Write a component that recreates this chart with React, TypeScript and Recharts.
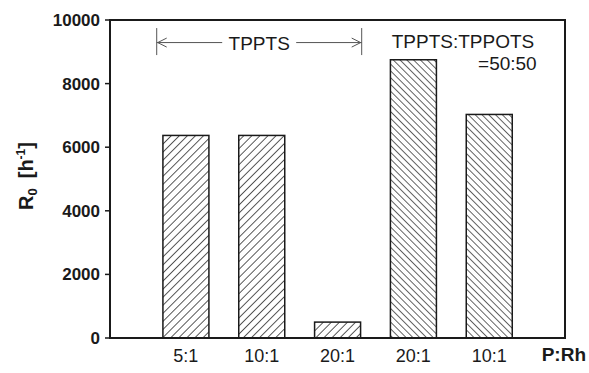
import React from 'react';
import { BarChart, Bar, XAxis, YAxis, ReferenceLine, ReferenceArea } from 'recharts';

// Initial rate R0 for the Rh catalyst at different P:Rh ratios
const slots = [1, 2, 3, 4, 5];
const ratioLabels = ['5:1', '10:1', '20:1', '20:1', '10:1'];
const rates = [6370, 6370, 500, 8750, 7030];
const ligandSystems = ['TPPTS', 'TPPTS', 'TPPTS', 'TPPTS:TPPOTS', 'TPPTS:TPPOTS'];
const yTicks = [0, 2000, 4000, 6000, 8000, 10000];

const data = slots.map((pos, i) => ({
  pos,
  rate: rates[i],
  system: ligandSystems[i],
}));

const FONT = '"Liberation Sans", Arial, Helvetica, sans-serif';
const INK = '#1a1a1a';

function HatchedBar(props: any) {
  const { x, y, width, height, payload } = props;
  const fill = payload.system === 'TPPTS' ? 'url(#hatchFwd)' : 'url(#hatchBack)';
  return <rect x={x} y={y} width={width} height={height} fill={fill} stroke={INK} strokeWidth={1.5} />;
}

// "|<---- TPPTS ---->|" bracket over the pure TPPTS bars
function SpanArrow(props: any) {
  const { x1, x2, y1 } = props;
  const y = y1;
  const mid = (x1 + x2) / 2;
  const c = '#555';
  return (
    <g>
      <line x1={x1} y1={y - 14.5} x2={x1} y2={y + 12.5} stroke={c} strokeWidth={1} />
      <line x1={x2} y1={y - 14.5} x2={x2} y2={y + 12.5} stroke={c} strokeWidth={1} />
      <line x1={x1} y1={y} x2={mid - 37} y2={y} stroke={c} strokeWidth={1} />
      <line x1={mid + 37} y1={y} x2={x2} y2={y} stroke={c} strokeWidth={1} />
      <polyline points={`${x1 + 10},${y - 4.5} ${x1 + 1},${y} ${x1 + 10},${y + 4.5}`} fill="none" stroke={c} strokeWidth={1} />
      <polyline points={`${x2 - 10},${y - 4.5} ${x2 - 1},${y} ${x2 - 10},${y + 4.5}`} fill="none" stroke={c} strokeWidth={1} />
      <text x={mid} y={y + 7} textAnchor="middle" fontSize={19} fontFamily={FONT} fill={INK}>
        TPPTS
      </text>
    </g>
  );
}

const textShape = (text: string, anchor: 'start' | 'end') => (props: any) => {
  const { x1, x2, y1 } = props;
  return (
    <text x={anchor === 'start' ? x1 : x2} y={y1} textAnchor={anchor} fontSize={19} fontFamily={FONT} fill={INK}>
      {text}
    </text>
  );
};

function YLabel(props: any) {
  const { viewBox } = props;
  const cx = viewBox.x + 33;
  const cy = viewBox.y + viewBox.height / 2 - 3;
  return (
    <text
      x={cx}
      y={cy}
      transform={`rotate(-90 ${cx} ${cy})`}
      textAnchor="middle"
      fontSize={20}
      fontWeight="bold"
      fontFamily={FONT}
      fill={INK}
    >
      R<tspan fontSize={13} dy={4}>0</tspan>
      <tspan dy={-4} dx={10}>[h</tspan>
      <tspan fontSize={12} dy={-8}>-1</tspan>
      <tspan dy={8}>]</tspan>
    </text>
  );
}

function XLabel(props: any) {
  const { viewBox } = props;
  return (
    <text
      x={viewBox.x + viewBox.width + 21}
      y={viewBox.y + 23}
      textAnchor="end"
      fontSize={19}
      fontWeight="bold"
      fontFamily={FONT}
      fill={INK}
    >
      P:Rh
    </text>
  );
}

export default function App() {
  return (
    <div style={{ position: 'absolute', left: 0, top: 0, width: 589, height: 373, background: '#fff' }}>
      <svg width={0} height={0} style={{ position: 'absolute' }}>
        <defs>
          <pattern id="hatchFwd" patternUnits="userSpaceOnUse" width={5.7} height={5.7} patternTransform="rotate(45)">
            <line x1={0} y1={0} x2={0} y2={5.7} stroke="#111" strokeWidth={1.4} />
          </pattern>
          <pattern id="hatchBack" patternUnits="userSpaceOnUse" width={4.8} height={4.8} patternTransform="rotate(-45)">
            <line x1={0} y1={0} x2={0} y2={4.8} stroke="#111" strokeWidth={1.3} />
          </pattern>
        </defs>
      </svg>
      <BarChart width={589} height={373} data={data} margin={{ top: 20, right: 24, left: 0, bottom: 0 }}>
        <XAxis
          dataKey="pos"
          type="number"
          domain={[0, 6]}
          ticks={slots}
          tickFormatter={(v: number) => ratioLabels[v - 1] ?? ''}
          height={35}
          tickLine={false}
          tickSize={0}
          tickMargin={11}
          axisLine={{ stroke: INK, strokeWidth: 2 }}
          tick={{ fontSize: 18, fill: INK, fontFamily: FONT }}
          label={<XLabel />}
        />
        <YAxis
          domain={[0, 10000]}
          ticks={yTicks}
          width={110}
          tickSize={5}
          tickMargin={5}
          tickLine={{ stroke: INK, strokeWidth: 1.5 }}
          axisLine={{ stroke: INK, strokeWidth: 2 }}
          tick={{ fontSize: 17, fill: INK, fontFamily: FONT, fontWeight: 'bold' }}
          label={<YLabel />}
        />
        <ReferenceArea x1={0} x2={6} y1={0} y2={10000} fill="none" stroke={INK} strokeWidth={2} />
        <Bar dataKey="rate" barSize={46} shape={<HatchedBar />} isAnimationActive={false} />
        <ReferenceLine segment={[{ x: 0.616, y: 9290 }, { x: 3.319, y: 9290 }]} shape={SpanArrow} />
        <ReferenceLine segment={[{ x: 3.715, y: 9110 }, { x: 5.627, y: 9110 }]} shape={textShape('TPPTS:TPPOTS', 'start')} />
        <ReferenceLine segment={[{ x: 3.715, y: 8420 }, { x: 5.627, y: 8420 }]} shape={textShape('=50:50', 'end')} />
      </BarChart>
    </div>
  );
}
